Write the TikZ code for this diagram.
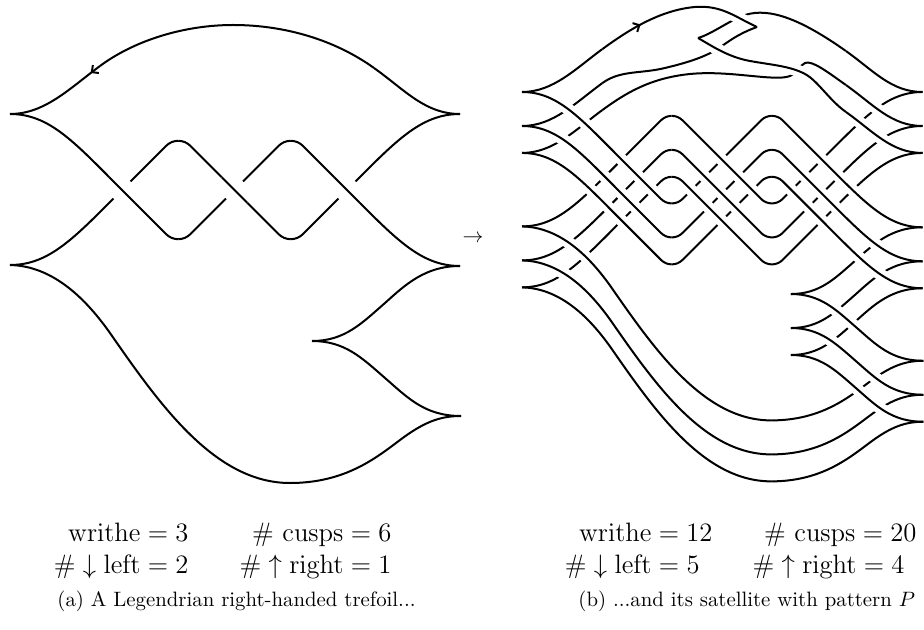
\RequirePackage{fix-cm}
\documentclass[tikz,border=0pt]{standalone}
\usetikzlibrary{decorations.markings,arrows.meta}
% base front pieces (coordinates of the left picture, y downwards)
\newcommand\KpA{(10,114) .. controls (50,114) and (75,143) .. (122,190) -- (166.25,234.25) .. controls (169.4,237.4) and (173.75,239.2) .. (178.25,239.2)}
\newcommand\KpB{(178.25,239.2) .. controls (182.75,239.2) and (187.1,237.4) .. (190.25,234.25) -- (278.75,145.75) .. controls (281.9,142.6) and (286.25,140.8) .. (290.75,140.8)}
\newcommand\KpC{(290.75,140.8) .. controls (295.25,140.8) and (299.6,142.6) .. (302.75,145.75) -- (347,190) .. controls (395,238) and (420,266) .. (460,266)}
\newcommand\KpD{(10,265) .. controls (50,265) and (75,237) .. (122,190) -- (166.25,145.75) .. controls (169.4,142.6) and (173.75,140.8) .. (178.25,140.8)}
\newcommand\KpE{(178.25,140.8) .. controls (182.75,140.8) and (187.1,142.6) .. (190.25,145.75) -- (278.75,234.25) .. controls (281.9,237.4) and (286.25,239.2) .. (290.75,239.2)}
\newcommand\KpF{(290.75,239.2) .. controls (295.25,239.2) and (299.6,237.4) .. (302.75,234.25) -- (347,190) .. controls (395,142) and (420,114) .. (460,114)}
\newcommand\KpG{(460,266) .. controls (425,266) and (405,285) .. (385,303) .. controls (362,323) and (345,341) .. (312,341)}
\newcommand\KpH{(312,341) .. controls (345,341) and (362,358) .. (385,378) .. controls (408,398) and (425,416) .. (461,416)}
\newcommand\KpIa{(461,416) .. controls (440,416) and (424,422) .. (400,440) .. controls (376,458) and (345,483) .. (290,483)}
\newcommand\KpIb{(290,483) .. controls (215,483) and (160,405) .. (110,333) .. controls (88,302) and (55,266) .. (10,265)}
\newcommand\KpJa{(10,114) .. controls (45,114) and (70,88) .. (100,66)}
\newcommand\KpJm{(100,66) .. controls (135,40) and (185,25) .. (233,25) .. controls (285,25) and (335,40) .. (374,68)}
\newcommand\KpJb{(374,68) .. controls (405,90) and (425,114) .. (460,114)}
% pattern strands (coordinates of the whole picture)
\newcommand\KpTa{(602.1,49.3) .. controls (628,30.3) and (660,10) .. (695,7) .. controls (722,5) and (735,17) .. (757,27)}
\newcommand\KpTb{(757,27) .. controls (743,32) and (733,38) .. (722,46) .. controls (708,56) and (690,62) .. (665,68) .. controls (640,74) and (620,70) .. (602.1,83.3)}
\newcommand\KpU{(698,38) .. controls (712,34) and (730,20) .. (745,15) .. controls (770,7) and (802,20) .. (845.96,51.06)}
\newcommand\KpAp{(698,38) .. controls (712,46) and (728,57) .. (750,61) .. controls (772,65) and (790,66) .. (805,74) .. controls (818,81) and (829,100) .. (845.96,112.03)}
\newcommand\KpTc{(602.1,110.25) .. controls (625,93.5) and (650,78) .. (690,74) .. controls (730,70) and (775,82) .. (790,76) .. controls (797,73) and (799,66) .. (805,63) .. controls (812,60) and (827.5,72) .. (845.96,85.06)}
\tikzset{
  strand/.style={line width=1pt,black},
  halo/.style={line width=6pt,white},
  halol/.style={line width=12pt,white},
  sat/.style={shift={(522,92)},scale=0.89,shift={(-10,-114)}},
  mathtxt/.style={inner sep=0pt,font=\fontsize{13.3}{16}\selectfont},
  captxt/.style={inner sep=0pt,font=\fontsize{10.4}{12.5}\selectfont},
  arrowmark/.style={postaction={decorate},decoration={markings,mark=at position #1 with {\arrow{>}}}},
  arrowmarkback/.style={postaction={decorate},decoration={markings,mark=at position #1 with {\arrow{<}}}}
}
\begin{document}
\begin{tikzpicture}[x=0.5pt,y=-0.5pt,>={Straight Barb[length=2.5pt,width=5pt]}]
\useasboundingbox (0,0) rectangle (924,630);
\fill[white] (0,0) rectangle (924,630);

% ---------- (a) the trefoil ----------
\draw[strand] \KpA;
\draw[strand] \KpB;
\draw[strand] \KpC;
\draw[strand] \KpD;
\draw[strand] \KpE;
\draw[strand] \KpF;
\draw[strand] \KpG;
\draw[strand] \KpH;
\draw[strand] \KpIa;
\draw[strand] \KpIb;
\draw[strand,arrowmarkback=0.96] \KpJa;
\draw[strand] \KpJm;
\draw[strand] \KpJb;
\begin{scope}
  \clip (122,190) circle (18) (234.5,190) circle (18) (347,190) circle (18);
  \draw[halol] \KpA; \draw[strand] \KpA;
  \draw[halol] \KpE; \draw[strand] \KpE;
  \draw[halol] \KpC; \draw[strand] \KpC;
\end{scope}

% ---------- (b) the satellite ----------
% strands that pass under
\begin{scope}[sat]
\foreach \dd in {0,38.2,68.5}{
  \draw[strand,shift={(0,\dd)}] \KpB;
  \draw[strand,shift={(0,\dd)}] \KpD;
  \draw[strand,shift={(0,\dd)}] \KpF;
  \draw[strand,shift={(0,\dd)}] \KpG;
  \draw[strand,shift={(0,\dd)}] \KpIa;
  \draw[strand,shift={(0,\dd)}] \KpJa;
}
\end{scope}
\draw[strand] \KpTb;
\draw[strand] \KpU;
\draw[strand] \KpTc;
% halos of the strands that pass over, kept away from the cusp tips
\begin{scope}[even odd rule]
  \clip (430,-30) rectangle (960,660)
    (522,92) circle (25) (522,126) circle (25) (522,153) circle (25)
    (922.5,92) circle (25) (922.5,126) circle (25) (922.5,153) circle (25)
    (522,226.4) circle (25) (522,260.4) circle (25) (522,287.4) circle (25)
    (922.5,227.3) circle (25) (922.5,261.3) circle (25) (922.5,288.3) circle (25)
    (790.8,294) circle (25) (790.8,328) circle (25) (790.8,355) circle (25)
    (923.4,360.8) circle (25) (923.4,394.8) circle (25) (923.4,421.8) circle (25)
    (757,27) circle (10) (698,38) circle (12);
  \begin{scope}[sat]
  \foreach \dd in {0,38.2,68.5}{
    \draw[halo,shift={(0,\dd)}] \KpA;
    \draw[halo,shift={(0,\dd)}] \KpC;
    \draw[halo,shift={(0,\dd)}] \KpE;
    \draw[halo,shift={(0,\dd)}] \KpH;
    \draw[halo,shift={(0,\dd)}] \KpIb;
    \draw[halo,shift={(0,\dd)}] \KpJb;
  }
  \end{scope}
  \draw[halo] \KpTa;
  \draw[halo] \KpAp;
\end{scope}
% strands that pass over
\begin{scope}[sat]
\foreach \dd in {0,38.2,68.5}{
  \draw[strand,shift={(0,\dd)}] \KpA;
  \draw[strand,shift={(0,\dd)}] \KpC;
  \draw[strand,shift={(0,\dd)}] \KpE;
  \draw[strand,shift={(0,\dd)}] \KpH;
  \draw[strand,shift={(0,\dd)}] \KpIb;
  \draw[strand,shift={(0,\dd)}] \KpJb;
}
\end{scope}
\draw[strand,arrowmark=0.27] \KpTa;
\draw[strand] \KpAp;

% ---------- texts ----------
\node[captxt] (arr) at (473,239) {$\rightarrow$};

\node[mathtxt,anchor=base east] (wa) at (189,541) {$\mathrm{writhe} = 3$};
\node[mathtxt,anchor=base east] (ca) at (392,541) {$\#\ \mathrm{cusps} = 6$};
\node[mathtxt,anchor=base east] (la) at (189,573) {$\#\downarrow\mathrm{left} = 2$};
\node[mathtxt,anchor=base east] (ra) at (392,573) {$\#\uparrow\mathrm{right} = 1$};
\node[captxt,anchor=base] (capa) at (236.5,606) {(a) A Legendrian right-handed trefoil...};

\node[mathtxt,anchor=base east] (wb) at (713,541) {$\mathrm{writhe} = 12$};
\node[mathtxt,anchor=base east] (cb) at (917,541) {$\#\ \mathrm{cusps} = 20$};
\node[mathtxt,anchor=base east] (lb) at (700,573) {$\#\downarrow\mathrm{left} = 5$};
\node[mathtxt,anchor=base east] (rb) at (905,573) {$\#\uparrow\mathrm{right} = 4$};
\node[captxt,anchor=base west] (capb) at (578,606) {(b) ...and its satellite with pattern $P$};
\end{tikzpicture}
\end{document}
